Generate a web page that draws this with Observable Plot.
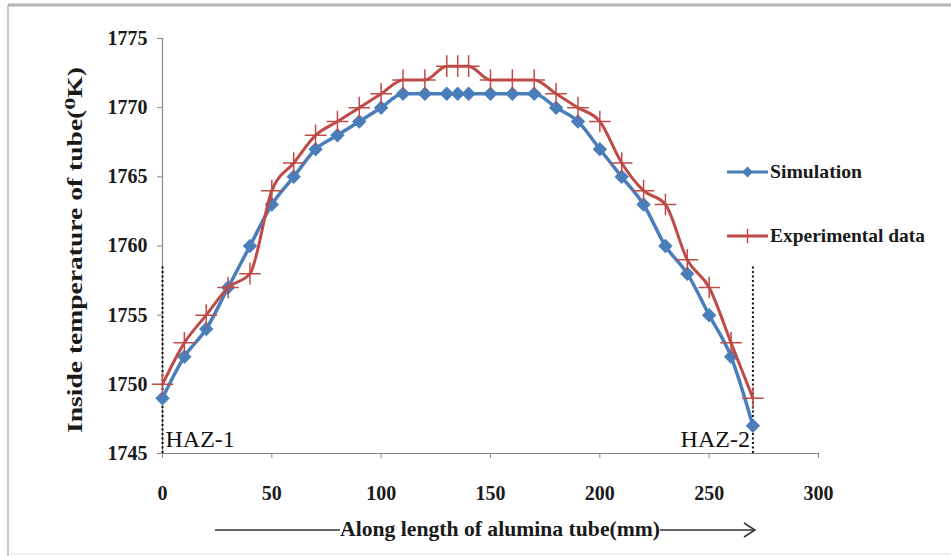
<!DOCTYPE html>
<html>
<head>
<meta charset="utf-8">
<script src="https://cdn.jsdelivr.net/npm/d3@7"></script>
<script src="https://cdn.jsdelivr.net/npm/@observablehq/plot@0.6"></script>
<style>
  html, body { margin: 0; padding: 0; background: #fff; }
  #chart { width: 951px; height: 556px; }
</style>
</head>
<body>
<div id="chart"></div>
<script>
// ---- data ----
const positions = [0,10,20,30,40,50,60,70,80,90,100,110,120,130,135,140,150,160,170,180,190,200,210,220,230,240,250,260,270];
const simulation = [1749,1752,1754,1757,1760,1763,1765,1767,1768,1769,1770,1771,1771,1771,1771,1771,1771,1771,1771,1770,1769,1767,1765,1763,1760,1758,1755,1752,1747];
const experimental = [1750,1753,1755,1757,1758,1764,1766,1768,1769,1770,1771,1772,1772,1773,1773,1773,1772,1772,1772,1771,1770,1769,1766,1764,1763,1759,1757,1753,1749];
const xTicks = [0,50,100,150,200,250,300];
const yTicks = [1745,1750,1755,1760,1765,1770,1775];
const hazPositions = [0, 270];
const hazLabels = ["HAZ-1", "HAZ-2"];
const hazTop = 1758.6;
const seriesNames = ["Simulation", "Experimental data"];
const xLabel = "Along length of alumina tube(mm)";
const yLabel = "Inside temperature of tube(\u2070K)";

const simData = positions.map((x, i) => ({x, y: simulation[i]}));
const expData = positions.map((x, i) => ({x, y: experimental[i]}));
const hazData = hazPositions.map((x, i) => ({x, label: hazLabels[i]}));

const BLUE = "#4A7EBB";
const RED = "#BE4B48";
const FONT = "Liberation Serif, Tinos, Times New Roman, DejaVu Serif, serif";

const chart = Plot.plot({
  width: 951,
  height: 556,
  marginLeft: 162,
  marginRight: 133,
  marginTop: 38,
  marginBottom: 103,
  style: {fontFamily: FONT, fontSize: "20px", fontWeight: "bold", background: "#fff", overflow: "visible"},
  x: {domain: [0, 300]},
  y: {domain: [1745, 1775]},
  marks: [
    Plot.axisY({ticks: yTicks, tickFormat: d3.format("d"), tickSize: 5, tickPadding: 10, label: null, stroke: "#888", fill: "#1a1a1a"}),
    Plot.axisX({ticks: xTicks, tickFormat: d3.format("d"), tickSize: 5, tickPadding: 27, label: null, stroke: "#888", fill: "#1a1a1a"}),
    Plot.ruleY([1745], {stroke: "#888", strokeWidth: 1.2}),
    Plot.ruleX([0], {stroke: "#888", strokeWidth: 1.2}),
    Plot.ruleX(hazData, {x: "x", y1: 1745, y2: hazTop, stroke: "#111", strokeWidth: 2, strokeDasharray: "2,2.5"}),
    Plot.text(hazData.slice(0, 1), {x: "x", y: 1746, text: "label", textAnchor: "start", dx: 3, fontSize: 24, fontWeight: "normal", fill: "#111"}),
    Plot.text(hazData.slice(1), {x: "x", y: 1746, text: "label", textAnchor: "end", dx: -3, fontSize: 24, fontWeight: "normal", fill: "#111"}),
    Plot.line(simData, {x: "x", y: "y", stroke: BLUE, strokeWidth: 3.5, curve: "monotone-x"}),
    Plot.dot(simData, {x: "x", y: "y", symbol: "diamond2", fill: BLUE, r: 6.5}),
    Plot.line(expData, {x: "x", y: "y", stroke: RED, strokeWidth: 3, curve: "monotone-x"}),
    Plot.dot(expData, {x: "x", y: "y", symbol: "plus", stroke: RED, r: 7, strokeWidth: 1.5})
  ]
});

document.getElementById("chart").appendChild(chart);
const svg = d3.select(chart);

// outer border
svg.append("line").attr("x1", 8).attr("x2", 951).attr("y1", 5).attr("y2", 5).attr("stroke", "#b5b5b5").attr("stroke-width", 3);
svg.append("line").attr("x1", 8).attr("x2", 8).attr("y1", 5).attr("y2", 556).attr("stroke", "#b5b5b5").attr("stroke-width", 1.5);
svg.append("line").attr("x1", 8).attr("x2", 951).attr("y1", 554).attr("y2", 554).attr("stroke", "#e0e0e0").attr("stroke-width", 1);

// y label
svg.append("text")
  .attr("transform", "translate(82,250) rotate(-90)")
  .attr("text-anchor", "middle")
  .attr("font-family", FONT).attr("font-weight", "bold").attr("font-size", 22)
  .attr("fill", "#1a1a1a")
  .attr("textLength", 366).attr("lengthAdjust", "spacingAndGlyphs")
  .text(yLabel);

// x label with arrow
const xlY = 530;
svg.append("line").attr("x1", 215).attr("x2", 340).attr("y1", xlY).attr("y2", xlY).attr("stroke", "#333").attr("stroke-width", 1.5);
svg.append("text")
  .attr("x", 340).attr("y", xlY + 6)
  .attr("text-anchor", "start")
  .attr("font-family", FONT).attr("font-weight", "bold").attr("font-size", 21)
  .attr("fill", "#1a1a1a")
  .attr("textLength", 320).attr("lengthAdjust", "spacingAndGlyphs")
  .text(xLabel);
svg.append("line").attr("x1", 660).attr("x2", 755).attr("y1", xlY).attr("y2", xlY).attr("stroke", "#333").attr("stroke-width", 1.5);
svg.append("path").attr("d", `M744,${xlY-7}L755,${xlY}L744,${xlY+7}`).attr("fill", "none").attr("stroke", "#333").attr("stroke-width", 1.5);

// legend
const legend = svg.append("g");
[{y: 172, color: BLUE, name: seriesNames[0], sym: "diamond"}, {y: 236, color: RED, name: seriesNames[1], sym: "plus"}]
  .forEach(d => {
    legend.append("line").attr("x1", 727).attr("x2", 768).attr("y1", d.y).attr("y2", d.y).attr("stroke", d.color).attr("stroke-width", 3);
    if (d.sym === "diamond") {
      legend.append("path").attr("d", `M747.5,${d.y-5.5}L753,${d.y}L747.5,${d.y+5.5}L742,${d.y}Z`).attr("fill", d.color);
    } else {
      legend.append("path").attr("d", `M747.5,${d.y-7}V${d.y+7}M740.5,${d.y}H754.5`).attr("stroke", d.color).attr("stroke-width", 1.5);
    }
    legend.append("text").attr("x", 770).attr("y", d.y + 6)
      .attr("text-anchor", "start")
      .attr("font-family", FONT).attr("font-weight", "bold").attr("font-size", 19)
      .attr("fill", "#1a1a1a")
      .attr("textLength", d.name === seriesNames[0] ? 92 : 155).attr("lengthAdjust", "spacingAndGlyphs")
      .text(d.name);
  });
</script>
</body>
</html>
